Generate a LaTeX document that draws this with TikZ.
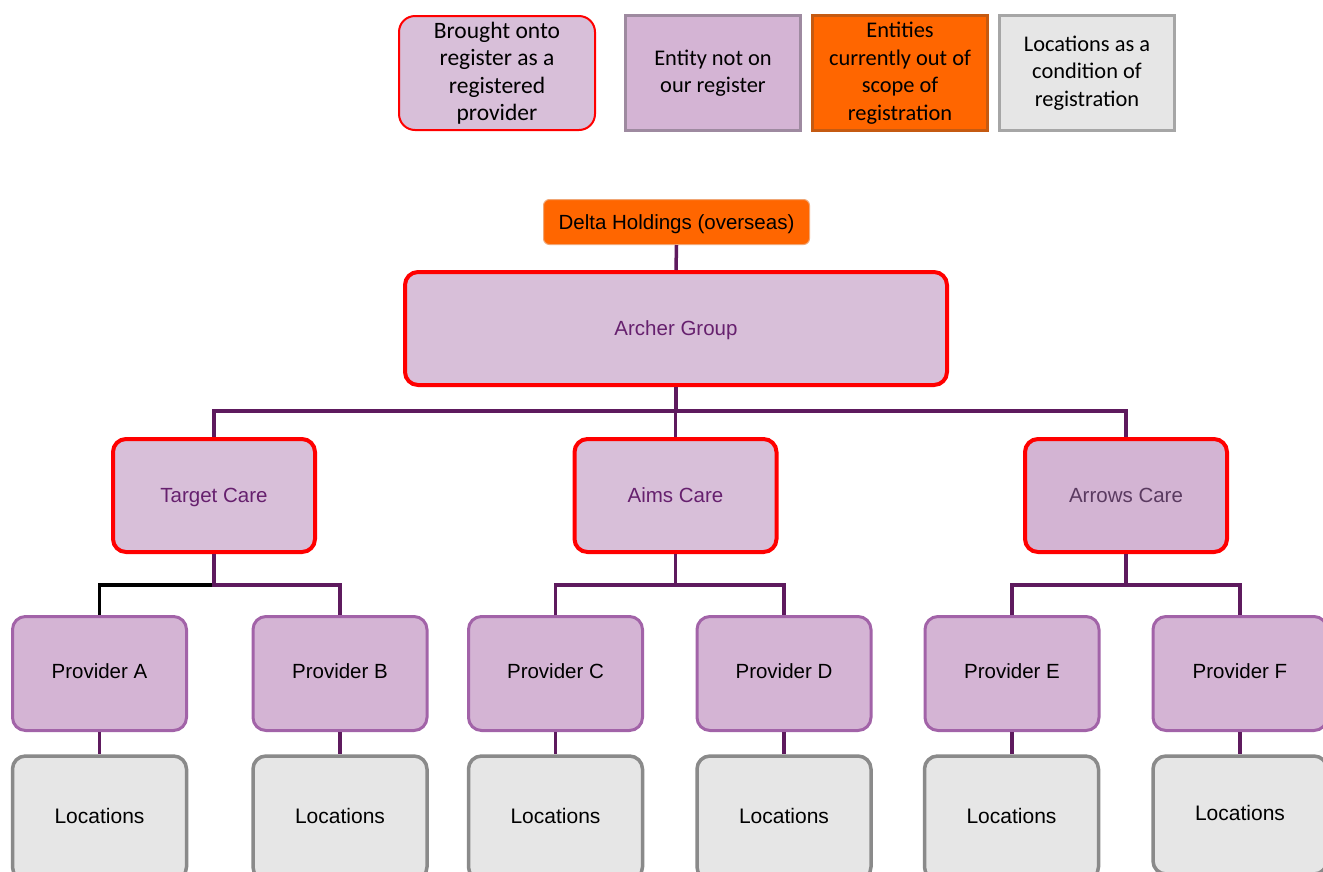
\documentclass[tikz,border=0pt]{standalone}
\usepackage{fontspec}
\setmainfont{Liberation Sans}
\newfontfamily\legfont{Carlito}
\definecolor{conncol}{HTML}{5E1A5E}
\definecolor{carefill}{HTML}{D8BFD9}
\definecolor{arrowfill}{HTML}{D3B4D3}
\definecolor{provfill}{HTML}{D4B4D4}
\definecolor{provborder}{HTML}{A263A8}
\definecolor{locfill}{HTML}{E6E6E6}
\definecolor{locborder}{HTML}{8A8A8A}
\definecolor{orangefill}{HTML}{FF6600}
\definecolor{orangeborder}{HTML}{C55A11}
\definecolor{purpletext}{HTML}{66206E}
\definecolor{arrowtext}{HTML}{5A3A60}
\definecolor{legborder}{HTML}{9E8AA0}
\definecolor{greyborder}{HTML}{A6A6A6}
\definecolor{regred}{HTML}{FF0000}
\tikzset{
  lab/.style={font=\fontsize{20.5}{24}\selectfont, text height=18.7pt, text depth=4.1pt},
  lowlab/.style={text height=13.7pt, text depth=4.1pt},
  conn/.style={draw=conncol, line width=3.5pt},
  blackconn/.style={draw=black, line width=3.5pt},
  carebox/.style={lab, draw=regred, fill=carefill, line width=4pt, rounded corners=13pt,
    minimum width=202pt, minimum height=113pt, text=purpletext},
  provbox/.style={lab, lowlab, draw=provborder, fill=provfill, line width=3pt, rounded corners=13pt,
    minimum width=174pt, minimum height=114pt},
  locbox/.style={lab, font=\fontsize{21}{24}\selectfont, text height=14.7pt, text depth=4.1pt,
    draw=locborder, fill=locfill, line width=3.5pt, rounded corners=13pt,
    minimum width=174pt, minimum height=124pt},
  legbox/.style={line width=3pt, minimum width=175pt, minimum height=115pt,
    align=center, font=\legfont\fontsize{22.4}{27.5}\selectfont},
}
\begin{document}
\begin{tikzpicture}[x=1pt,y=-1pt]
\clip (0,0) rectangle (1323,871);
\fill[white] (0,0) rectangle (1323,871);

% legend
\node[legbox, draw=regred, fill=carefill, line width=2pt, rounded corners=16pt,
  minimum width=196pt, minimum height=114pt, font=\legfont\fontsize{23.5}{27.5}\selectfont]
  (leg1) at (497,73) {Brought onto\\register as a\\registered\\provider};
\node[legbox, draw=legborder, fill=provfill] (leg2) at (713,73) {Entity not on\\our register};
\node[legbox, draw=orangeborder, fill=orangefill] (leg3) at (900,73) {Entities\\currently out of\\scope of\\registration};
\node[legbox, draw=greyborder, fill=locfill] (leg4) at (1087,73) {Locations as a\\condition of\\registration};

% top
\node[lab, draw=orangefill!80!gray!60, fill=orangefill, line width=1pt, rounded corners=6pt,
  minimum width=266pt, minimum height=45pt]
  (delta) at (676.5,222) {Delta Holdings (overseas)};
\node[carebox, minimum width=542pt, minimum height=113pt] (archer) at (676,328.5) {Archer Group};

% care level
\node[carebox] (target) at (214,495.5) {Target Care};
\node[carebox] (aims) at (675.5,495.5) {Aims Care};
\node[carebox, fill=arrowfill, text=arrowtext] (arrows) at (1126,495.5) {Arrows Care};

% providers
\node[provbox] (pA) at (99.5,673.5) {Provider A};
\node[provbox] (pB) at (340,673.5) {Provider B};
\node[provbox] (pC) at (555.5,673.5) {Provider C};
\node[provbox] (pD) at (784,673.5) {Provider D};
\node[provbox] (pE) at (1012,673.5) {Provider E};
\node[provbox] (pF) at (1240,673.5) {Provider F};

% locations
\node[locbox] (lA) at (99.5,818) {Locations};
\node[locbox] (lB) at (340,818) {Locations};
\node[locbox] (lC) at (555.5,818) {Locations};
\node[locbox] (lD) at (784,818) {Locations};
\node[locbox] (lE) at (1011.5,818) {Locations};
\node[locbox, minimum height=118pt] (lF) at (1240,815) {Locations};

% connectors
\coordinate (bus1) at (0,411);
\coordinate (bus2) at (0,585);
\draw[conn] (delta.south) -- (archer.north);
\draw[conn] (archer.south) -- (archer.south |- bus1);
\draw[conn] (target.north) -- (target.north |- bus1) -- (arrows.north |- bus1) -- (arrows.north);
\draw[conn] (aims.north) -- (aims.north |- bus1);

\draw[blackconn] (target.south |- bus2) -- (pA.north |- bus2) -- (pA.north);
\draw[conn] (target.south) -- (target.south |- bus2) -- (pB.north |- bus2) -- (pB.north);
\draw[conn] (aims.south) -- (aims.south |- bus2);
\draw[conn] (pC.north) -- (pC.north |- bus2) -- (pD.north |- bus2) -- (pD.north);
\draw[conn] (arrows.south) -- (arrows.south |- bus2);
\draw[conn] (pE.north) -- (pE.north |- bus2) -- (pF.north |- bus2) -- (pF.north);

\draw[conn] (pA.south) -- (lA.north);
\draw[conn] (pB.south) -- (lB.north);
\draw[conn] (pC.south) -- (lC.north);
\draw[conn] (pD.south) -- (lD.north);
\draw[conn] (pE.south) -- (pE.south |- lE.north);
\draw[conn] (pF.south) -- (lF.north);
\end{tikzpicture}
\end{document}
